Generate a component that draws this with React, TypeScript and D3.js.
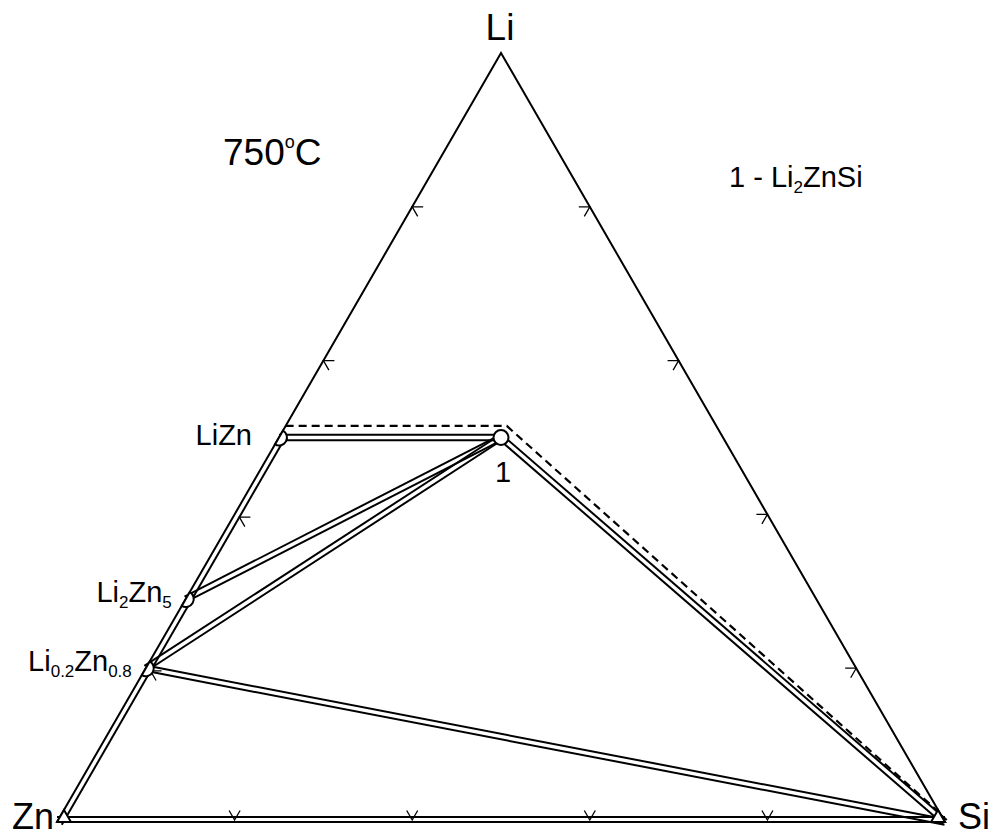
import React from 'react';
import * as d3 from 'd3';

const W = 998;
const H = 837;

// Vertices of the ternary system (order of composition: Li, Zn, Si)
const vertexNames = ['Li', 'Zn', 'Si'];
const vertexLi = [1, 0, 0];
const vertexZn = [0, 1, 0];
const vertexSi = [0, 0, 1];

// Phases (compositions)
const phaseNames = ['LiZn', 'Li2Zn5', 'Li0.2Zn0.8', '1'];
const phaseLi = [0.5, 0.29, 0.2, 0.5];
const phaseZn = [0.5, 0.71, 0.8, 0.25];
const phaseSi = [0, 0, 0, 0.25];

// Two-phase tie strips (drawn as double lines)
const tieFrom = ['LiZn', 'Li2Zn5', 'Li0.2Zn0.8', 'Li0.2Zn0.8', '1'];
const tieTo = ['1', '1', '1', 'Si', 'Si'];

// Tick fractions on each side
const tickFractions = [0.2, 0.4, 0.6, 0.8];

// Dashed boundary (Li, Zn, Si)
const dashedLi = [0.515, 0.515, 0.012];
const dashedZn = [0.485, 0.236, 0.0];
const dashedSi = [0.0, 0.249, 0.988];

const SQ3 = Math.sqrt(3) / 2;
const xScale = d3.scaleLinear().domain([0, 1]).range([57, 945]);
const yScale = d3.scaleLinear().domain([0, SQ3]).range([822, 53]);

type P = [number, number];
const proj = (li: number, zn: number, si: number): P => {
  const t = li + zn + si;
  const u = si / t + li / t / 2;
  const v = (li / t) * SQ3;
  return [xScale(u), yScale(v)];
};

const pointOf = (name: string): P => {
  const vi = vertexNames.indexOf(name);
  if (vi >= 0) return proj(vertexLi[vi], vertexZn[vi], vertexSi[vi]);
  const i = phaseNames.indexOf(name);
  return proj(phaseLi[i], phaseZn[i], phaseSi[i]);
};

const add = (a: P, b: P, k = 1): P => [a[0] + b[0] * k, a[1] + b[1] * k];
const norm = (a: P, b: P): P => {
  const dx = b[0] - a[0];
  const dy = b[1] - a[1];
  const l = Math.hypot(dx, dy);
  return [dx / l, dy / l];
};

const line = d3.line<P>();

const FONT = '"Liberation Sans", Arial, Helvetica, sans-serif';
const SW = 2;

export default function App() {
  const Li = pointOf('Li');
  const Zn = pointOf('Zn');
  const Si = pointOf('Si');

  // interior normals
  const eLeft = norm(Zn, Li); // Zn -> Li
  const nLeft: P = [-eLeft[1], eLeft[0]];
  const nLeftIn: P = nLeft[0] > 0 ? nLeft : [-nLeft[0], -nLeft[1]];
  const nBottomIn: P = [0, -1];

  const segs: P[][] = [];
  // Triangle outline
  segs.push([Zn, Li, Si, Zn]);
  // Edge strip inner lines
  const LiZnP = pointOf('LiZn');
  segs.push([add(Zn, nLeftIn, 5.5), add(LiZnP, nLeftIn, 5.5)]);
  segs.push([add(Zn, nBottomIn, 5), add(Si, nBottomIn, 5)]);

  // Tie strips
  const OFF = 2.7;
  tieFrom.forEach((f, i) => {
    const a = pointOf(f);
    const b = pointOf(tieTo[i]);
    const d = norm(a, b);
    const n: P = [-d[1], d[0]];
    segs.push([add(a, n, OFF), add(b, n, OFF)]);
    segs.push([add(a, n, -OFF), add(b, n, -OFF)]);
  });

  // Ticks
  const TL = 11;
  const ticks: P[][] = [];
  tickFractions.forEach((f) => {
    // left edge, Li = f
    let p = proj(f, 1 - f, 0);
    if (f <= 0.5) p = add(p, nLeftIn, 5.5);
    ticks.push([add(p, [1, 0], TL), p, add(p, [0.5, SQ3], TL)]);
    // right edge, Li = f
    const q = proj(f, 0, 1 - f);
    ticks.push([add(q, [-1, 0], TL), q, add(q, [-0.5, SQ3], TL)]);
    // bottom edge, Si = f
    const r = add(proj(0, 1 - f, f), [0, -2], 1);
    ticks.push([add(r, [-0.5, -SQ3], TL), r, add(r, [0.5, -SQ3], TL)]);
  });

  const dashed: P[] = dashedLi.map((l, i) => proj(l, dashedZn[i], dashedSi[i]));

  // Corner triangles
  const CS = 14;
  const znTri: P[] = [Zn, add(Zn, norm(Zn, Si), CS), add(Zn, norm(Zn, Li), CS)];
  const siTri: P[] = [Si, add(Si, norm(Si, Zn), CS), add(Si, norm(Si, Li), CS)];

  // Semicircle markers on the Li-Zn edge
  const R = 8;
  const semi = (name: string) => {
    const c = pointOf(name);
    const a = add(c, eLeft, R);
    const b = add(c, eLeft, -R);
    return `M${a[0]},${a[1]} A${R},${R} 0 0 1 ${b[0]},${b[1]} Z`;
  };
  const p1 = pointOf('1');
  const pLiZn = pointOf('LiZn');
  const pLi2Zn5 = pointOf('Li2Zn5');
  const pLi02 = pointOf('Li0.2Zn0.8');

  const subFs = 17;
  return (
    <svg
      width={W}
      height={H}
      style={{ position: 'absolute', left: 0, top: 0, background: '#fff' }}
      fontFamily={FONT}
    >
      <rect x={0} y={0} width={W} height={H} fill="#fff" />
      {segs.map((s, i) => (
        <path key={'s' + i} d={line(s) || ''} fill="none" stroke="#000" strokeWidth={SW} strokeLinejoin="miter" />
      ))}
      {ticks.map((s, i) => (
        <path key={'t' + i} d={line(s) || ''} fill="none" stroke="#000" strokeWidth={1.3} />
      ))}
      <path d={line(dashed) || ''} fill="none" stroke="#000" strokeWidth={2.2} strokeDasharray="8,5" />
      <polygon points={znTri.map((p) => p.join(',')).join(' ')} fill="#fff" stroke="#000" strokeWidth={SW} />
      <polygon points={siTri.map((p) => p.join(',')).join(' ')} fill="#fff" stroke="#000" strokeWidth={SW} />
      {['LiZn', 'Li2Zn5', 'Li0.2Zn0.8'].map((n) => (
        <path key={n} d={semi(n)} fill="#fff" stroke="#000" strokeWidth={SW} />
      ))}
      <circle cx={p1[0]} cy={p1[1]} r={7.5} fill="#fff" stroke="#000" strokeWidth={SW} />

      {/* Vertex labels */}
      <text x={Li[0] - 1} y={Li[1] - 13} fontSize={37} textAnchor="middle">Li</text>
      <text x={Zn[0] - 3} y={Zn[1] + 7} fontSize={36} textAnchor="end">Zn</text>
      <text x={Si[0] + 13} y={Si[1] + 7} fontSize={36} textAnchor="start">Si</text>

      {/* Phase labels */}
      <text x={pLiZn[0] - 27} y={pLiZn[1] + 7} fontSize={29} textAnchor="end">LiZn</text>
      <text x={pLi2Zn5[0] - 14} y={pLi2Zn5[1] + 3} fontSize={29} textAnchor="end">
        Li<tspan fontSize={subFs} dy={6}>2</tspan>
        <tspan dy={-6}>Zn</tspan>
        <tspan fontSize={subFs} dy={6}>5</tspan>
      </text>
      <text x={pLi02[0] - 14} y={pLi02[1] + 3} fontSize={29} textAnchor="end">
        Li<tspan fontSize={subFs} dy={6}>0.2</tspan>
        <tspan dy={-6}>Zn</tspan>
        <tspan fontSize={subFs} dy={6}>0.8</tspan>
      </text>
      <text x={p1[0] + 2} y={p1[1] + 44} fontSize={29} textAnchor="middle">1</text>

      {/* Annotations */}
      <text x={223} y={165} fontSize={37}>
        750<tspan fontSize={18} dy={-17}>o</tspan>
        <tspan dy={17}>C</tspan>
      </text>
      <text x={729} y={187} fontSize={29}>
        1 - Li<tspan fontSize={subFs} dy={6}>2</tspan>
        <tspan dy={-6}>ZnSi</tspan>
      </text>
    </svg>
  );
}
